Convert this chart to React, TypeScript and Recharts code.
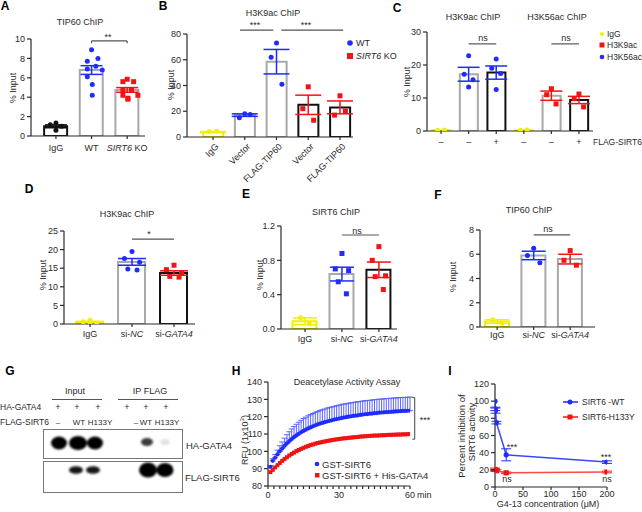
import React from 'react'
import { ComposedChart, Bar, Cell, Scatter, Line, ErrorBar, XAxis, YAxis, ReferenceLine } from 'recharts'

const FONT = '"Liberation Sans", Arial, sans-serif'
const BLUE = '#1f2bff'
const RED = '#f01414'
const YELLOW = '#f0f000'
const GREY = '#a9a9a9'
const BLACK = '#111111'
const INK = '#2a2a2a'

// A: TIP60 ChIP
const aCats = ['IgG', 'WT', '*SIRT6* KO']
const aMean = [1.0, 6.8, 4.75]
const aSem = [0.15, 0.45, 0.24]
const aIgG = [1.35, 1.15, 1.0, 0.6]
const aWT = [8.9, 8.0, 7.7, 7.2, 6.9, 6.8, 6.1, 5.3, 4.2]
const aKO = [5.85, 5.6, 5.6, 4.75, 4.75, 4.2, 4.2, 3.8, 3.9]

// B: H3K9ac ChIP
const bCats = ['IgG', 'Vector', 'FLAG-TIP60', 'Vector', 'FLAG-TIP60']
const bMean = [3.8, 17, 58.5, 25, 23]
const bSem = [0.4, 1, 9.5, 7.5, 5]
const bIgG = [4, 4.5]
const bWtVec = [18, 15, 17.5]
const bWtTip = [73, 62, 41]
const bKoVec = [39, 22, 13]
const bKoTip = [32, 17, 20]

// C: H3K9ac / H3K56ac ChIP
const cCats = ['–', '–', '+', '–', '–', '+']
const cMean = [0.2, 17.2, 17.7, 0.2, 10.7, 9.4]
const cSem = [0, 2.1, 2.0, 0, 1.4, 1.1]
const cIgG1 = [0.2, 0.3]
const cK9Neg = [22.8, 17.2, 15.5, 13.3]
const cK9Pos = [21.8, 19, 17.4, 12.6]
const cIgG2 = [0.2, 0.3]
const cK56Neg = [12.8, 11, 8.2]
const cK56Pos = [11.2, 9.8, 7.3]

// D: H3K9ac ChIP (siRNA)
const dCats = ['IgG', 'si-*NC*', 'si-*GATA4*']
const dMean = [0.5, 16.7, 13.7]
const dSem = [0.2, 0.9, 0.6]
const dIgG = [1.0, 0.6, 0.3, 0.4]
const dNC = [19.5, 17.6, 16.6, 14.8, 14.5]
const dGATA4 = [15.8, 14.6, 13.6, 12.8, 12.6]

// E: SIRT6 ChIP
const eCats = ['IgG', 'si-*NC*', 'si-*GATA4*']
const eMean = [0.09, 0.64, 0.69]
const eSem = [0.04, 0.08, 0.09]
const eIgG = [0.13, 0.06]
const eNC = [0.88, 0.7, 0.68, 0.55, 0.41]
const eGATA4 = [0.96, 0.8, 0.62, 0.61, 0.46]

// F: TIP60 ChIP (siRNA)
const fCats = ['IgG', 'si-*NC*', 'si-*GATA4*']
const fMean = [0.45, 5.9, 5.6]
const fSem = [0.15, 0.35, 0.4]
const fIgG = [0.6, 0.35]
const fNC = [6.5, 5.9, 5.3]
const fGATA4 = [6.3, 5.5, 5.1]

// H: deacetylase activity, minutes
const hMinutes = [
  1, 2, 3, 4, 5, 6, 7, 8, 9, 10, 11, 12, 13, 14, 15, 16, 17, 18, 19, 20,
  21, 22, 23, 24, 25, 26, 27, 28, 29, 30, 31, 32, 33, 34, 35, 36, 37, 38, 39, 40,
  41, 42, 43, 44, 45, 46, 47, 48, 49, 50, 51, 52, 53, 54, 55, 56, 57, 58, 59, 60,
]
const hSirt6 = [
  91, 94.5, 96.3, 98.2, 100, 101.6, 103.2, 104.6, 105.9, 107.1,
  108.2, 109.2, 110.1, 111, 111.8, 112.5, 113.2, 113.8, 114.4, 115,
  115.5, 116, 116.4, 116.8, 117.2, 117.6, 117.9, 118.3, 118.6, 118.9,
  119.2, 119.5, 119.7, 120, 120.2, 120.4, 120.6, 120.8, 121, 121.2,
  121.4, 121.5, 121.7, 121.8, 122, 122.1, 122.3, 122.4, 122.5, 122.6,
  122.7, 122.8, 122.9, 123, 123.1, 123.2, 123.3, 123.3, 123.4, 123.5,
]
const hSirt6Err = [
  0.8, 1.2, 1.8, 2.5, 3.2, 3.8, 4.4, 5.0, 5.4, 5.8,
  6.1, 6.4, 6.7, 6.9, 7.1, 7.2, 7.3, 7.4, 7.4, 7.5,
  7.5, 7.6, 7.6, 7.6, 7.7, 7.7, 7.7, 7.6, 7.7, 7.7,
  7.7, 7.8, 7.7, 7.7, 7.8, 7.7, 7.8, 7.8, 7.7, 7.8,
  7.8, 7.8, 7.7, 7.8, 7.8, 7.8, 7.8, 7.7, 7.8, 7.8,
  7.8, 7.8, 7.8, 7.8, 7.8, 7.8, 7.8, 7.8, 7.8, 7.8,
]
const hGata4 = [
  88, 89.3, 90.7, 92, 93.3, 94.5, 95.6, 96.6, 97.6, 98.5,
  99.3, 100.1, 100.8, 101.4, 102, 102.6, 103.1, 103.6, 104, 104.4,
  104.8, 105.1, 105.4, 105.7, 106, 106.2, 106.5, 106.7, 106.9, 107.1,
  107.3, 107.5, 107.6, 107.8, 107.9, 108.1, 108.2, 108.3, 108.5, 108.6,
  108.7, 108.8, 108.9, 109, 109.1, 109.1, 109.2, 109.3, 109.3, 109.4,
  109.5, 109.5, 109.6, 109.6, 109.7, 109.7, 109.8, 109.8, 109.9, 110,
]
const hTicks = [0, 2.5, 5, 7.5, 10, 12.5, 15, 17.5, 20, 22.5, 25, 27.5, 30, 32.5, 35, 37.5, 40, 42.5, 45, 47.5, 50, 52.5, 55, 57.5, 60]

// I: inhibition by G4-13
const iWtConc = [0, 0.5, 1, 2.5, 20, 200]
const iWtInh = [100, 91, 89, 75, 37.5, 29]
const iWtErr = [0, 2, 3, 1.5, 7, 1.5]
const iMutConc = [0, 0.5, 2.5, 20, 200]
const iMutInh = [20.5, 19.5, 19, 16.5, 17.5]
const iMutErr = [1.5, 1, 1, 1, 1]

// horizontal spread of replicate dots (category units)
const JIT: Record<number, number[]> = {
  2: [-0.12, 0.12],
  3: [0, -0.17, 0.17],
  4: [0, -0.16, 0.16, 0],
  5: [0, -0.18, 0.18, -0.1, 0.12],
  9: [0, 0.18, -0.12, 0.12, -0.12, 0.3, -0.12, 0.02, 0.02],
}

const axisStyle = { stroke: INK, strokeWidth: 1.2 }
const tickStyle = { fontSize: 9, fill: INK, fontFamily: FONT }

const rich = (s: string) =>
  s.split('*').map((part, i) => (
    <tspan key={i} fontStyle={i % 2 ? 'italic' : 'normal'}>{part}</tspan>
  ))

const dot = (color: string, square?: boolean, r = 2.5) => (p: any) =>
  square ? (
    <rect key={p.index} x={p.cx - r} y={p.cy - r} width={2 * r} height={2 * r} fill={color} />
  ) : (
    <circle key={p.index} cx={p.cx} cy={p.cy} r={r} fill={color} />
  )

const empty = () => <g />

interface Group { cat: number; values: number[]; color: string; square?: boolean }
interface Bracket { x1: number; x2: number; y: number; drop?: number }

interface PanelProps {
  left: number; top: number; width: number; height: number
  yWidth: number; mTop: number; mRight: number; xHeight: number
  xDomain: [number, number]; yDomain: [number, number]; yTicks: number[]
  cats: string[]; means: number[]; sems: number[]
  strokes: string[]; errColors: string[]; groups: Group[]
  barSize: number; cap: number; labelGap: number; rotate?: boolean
  brackets: Bracket[]; yFmt?: (v: number) => string
}

function DotBarPanel(p: PanelProps) {
  const bars = p.means.map((m, i) => ({ x: i, mean: m }))
  const catTick = (t: any) => {
    const label = p.cats[t.payload.value] ?? ''
    if (p.rotate) {
      const tx = t.x + 4
      const ty = t.y + 5
      return (
        <text x={tx} y={ty} transform={`rotate(-45 ${tx} ${ty})`} textAnchor="end" dominantBaseline="central" {...tickStyle}>
          {rich(label)}
        </text>
      )
    }
    return (
      <text x={t.x} y={t.y + p.labelGap} textAnchor="middle" dominantBaseline="central" {...tickStyle}>
        {rich(label)}
      </text>
    )
  }
  return (
    <div style={{ position: 'absolute', left: p.left, top: p.top }}>
      <ComposedChart width={p.width} height={p.height} data={bars} margin={{ top: p.mTop, right: p.mRight, bottom: 0, left: 0 }}>
        <XAxis type="number" dataKey="x" domain={p.xDomain} ticks={p.cats.map((_, i) => i)} interval={0} allowDataOverflow
          height={p.xHeight} axisLine={axisStyle} tickLine={axisStyle} tickSize={3} tickMargin={0} tick={catTick} />
        <XAxis xAxisId="pts" type="number" dataKey="x" domain={p.xDomain} allowDataOverflow hide />
        <YAxis type="number" domain={p.yDomain} ticks={p.yTicks} interval={0} allowDataOverflow width={p.yWidth}
          axisLine={axisStyle} tickLine={axisStyle} tickSize={4} tickMargin={2} tick={tickStyle} tickFormatter={p.yFmt} />
        <Bar dataKey="mean" barSize={p.barSize} fill="#ffffff" strokeWidth={2} isAnimationActive={false}>
          {p.means.map((_, i) => <Cell key={i} stroke={p.strokes[i]} />)}
        </Bar>
        {p.means.map((m, i) => (
          <Scatter key={'e' + i} xAxisId="pts" data={[{ x: i, y: m, err: p.sems[i] }]} dataKey="y" shape={empty} isAnimationActive={false}>
            <ErrorBar dataKey="err" direction="y" width={p.cap} stroke={p.errColors[i]} strokeWidth={1.5} />
          </Scatter>
        ))}
        {p.groups.map((g, k) => {
          const jit = JIT[g.values.length] ?? []
          const pts = g.values.map((v, j) => ({ x: g.cat + (jit[j] ?? 0), y: v }))
          return <Scatter key={'g' + k} xAxisId="pts" data={pts} dataKey="y" shape={dot(g.color, g.square)} isAnimationActive={false} />
        })}
        {p.brackets.map((b, k) => (
          <ReferenceLine key={'b' + k} segment={[{ x: b.x1, y: b.y }, { x: b.x2, y: b.y }]} stroke="#555" strokeWidth={1.2} ifOverflow="visible" />
        ))}
        {p.brackets.filter(b => b.drop).map((b, k) => (
          <ReferenceLine key={'l' + k} segment={[{ x: b.x1, y: b.y }, { x: b.x1, y: b.y - (b.drop ?? 0) }]} stroke="#555" strokeWidth={1.2} ifOverflow="visible" />
        ))}
        {p.brackets.filter(b => b.drop).map((b, k) => (
          <ReferenceLine key={'r' + k} segment={[{ x: b.x2, y: b.y }, { x: b.x2, y: b.y - (b.drop ?? 0) }]} stroke="#555" strokeWidth={1.2} ifOverflow="visible" />
        ))}
      </ComposedChart>
    </div>
  )
}

function ActivityPanel() {
  const rows = hMinutes.map((t, i) => ({ t, wt: hSirt6[i], wtErr: [0, hSirt6Err[i]], gata: hGata4[i] }))
  return (
    <div style={{ position: 'absolute', left: 230, top: 372 }}>
      <ComposedChart width={192} height={134} data={rows} margin={{ top: 10, right: 12, bottom: 0, left: 0 }}>
        <XAxis type="number" dataKey="t" domain={[0, 60]} ticks={hTicks} interval={0} allowDataOverflow height={20}
          axisLine={axisStyle} tickLine={axisStyle} tickSize={3} tickMargin={3} tick={tickStyle}
          tickFormatter={(v: number) => (v % 30 === 0 ? String(v) : '')} />
        <YAxis type="number" domain={[80, 140]} ticks={[80, 90, 100, 110, 120, 130, 140]} interval={0} allowDataOverflow width={38}
          axisLine={axisStyle} tickLine={axisStyle} tickSize={4} tickMargin={2} tick={tickStyle} />
        <Scatter dataKey="wt" shape={dot(BLUE, false, 2.1)} isAnimationActive={false}>
          <ErrorBar dataKey="wtErr" direction="y" width={3} stroke="#5b66ff" strokeWidth={1} />
        </Scatter>
        <Scatter dataKey="gata" shape={dot(RED, true, 2)} isAnimationActive={false} />
        <ReferenceLine segment={[{ x: 62, y: 131 }, { x: 62, y: 107 }]} stroke="#444" strokeWidth={1} ifOverflow="visible" />
        <ReferenceLine segment={[{ x: 61, y: 131 }, { x: 62, y: 131 }]} stroke="#444" strokeWidth={1} ifOverflow="visible" />
        <ReferenceLine segment={[{ x: 61, y: 107 }, { x: 62, y: 107 }]} stroke="#444" strokeWidth={1} ifOverflow="visible" />
      </ComposedChart>
    </div>
  )
}

function InhibitionPanel() {
  const wt = iWtConc.map((x, i) => ({ x, y: iWtInh[i], e: iWtErr[i] }))
  const mut = iMutConc.map((x, i) => ({ x, y: iMutInh[i], e: iMutErr[i] }))
  return (
    <div style={{ position: 'absolute', left: 460, top: 374 }}>
      <ComposedChart width={162} height={127} margin={{ top: 10, right: 15, bottom: 0, left: 0 }}>
        <XAxis type="number" dataKey="x" domain={[0, 200]} ticks={[0, 50, 100, 150, 200]} interval={0} allowDataOverflow height={14}
          axisLine={axisStyle} tickLine={axisStyle} tickSize={3} tickMargin={1} tick={tickStyle} />
        <YAxis type="number" domain={[0, 120]} ticks={[0, 20, 40, 60, 80, 100, 120]} interval={0} allowDataOverflow width={35}
          axisLine={axisStyle} tickLine={axisStyle} tickSize={4} tickMargin={2} tick={tickStyle} />
        <Line data={mut} dataKey="y" stroke="#ff4a4a" strokeWidth={1.5} dot={dot(RED, true, 2.6)} isAnimationActive={false}>
          <ErrorBar dataKey="e" direction="y" width={5} stroke={RED} strokeWidth={1} />
        </Line>
        <Line data={wt} dataKey="y" stroke="#3a46ff" strokeWidth={1.5} dot={dot(BLUE, false, 2.6)} isAnimationActive={false}>
          <ErrorBar dataKey="e" direction="y" width={5} stroke={BLUE} strokeWidth={1} />
        </Line>
      </ComposedChart>
    </div>
  )
}

const T = ({ x, y, children, size = 9, anchor = 'start', bold, rotate, fill = INK }: any) => (
  <text x={x} y={y} fontSize={size} textAnchor={anchor} dominantBaseline="central" fontWeight={bold ? 'bold' : 'normal'}
    fill={fill} fontFamily={FONT} transform={rotate ? `rotate(${rotate} ${x} ${y})` : undefined}>
    {children}
  </text>
)

const lanes = [58, 77, 98, 127, 146, 166]

function Overlay() {
  return (
    <svg width={642} height={512} style={{ position: 'absolute', left: 0, top: 0, pointerEvents: 'none' }}>
      <defs>
        <filter id="blur" x="-50%" y="-50%" width="200%" height="200%">
          <feGaussianBlur stdDeviation="1.3" />
        </filter>
      </defs>
      {/* panel letters */}
      <T x={5} y={6} size={12} bold anchor="middle" fill="#000">A</T>
      <T x={163} y={6} size={12} bold anchor="middle" fill="#000">B</T>
      <T x={397} y={8} size={12} bold anchor="middle" fill="#000">C</T>
      <T x={29} y={189} size={12} bold anchor="middle" fill="#000">D</T>
      <T x={246} y={194} size={12} bold anchor="middle" fill="#000">E</T>
      <T x={438} y={195} size={12} bold anchor="middle" fill="#000">F</T>
      <T x={10} y={371} size={12} bold anchor="middle" fill="#000">G</T>
      <T x={236} y={371} size={12} bold anchor="middle" fill="#000">H</T>
      <T x={450} y={371} size={12} bold anchor="middle" fill="#000">I</T>

      {/* titles */}
      <T x={80} y={22} anchor="middle">TIP60  ChIP</T>
      <T x={273} y={13} anchor="middle">H3K9ac ChIP</T>
      <T x={473} y={17} anchor="middle">H3K9ac  ChIP</T>
      <T x={557} y={17} anchor="middle">H3K56ac ChIP</T>
      <T x={127} y={214} anchor="middle">H3K9ac  ChIP</T>
      <T x={336} y={212} anchor="middle">SIRT6   ChIP</T>
      <T x={529} y={210} anchor="middle">TIP60  ChIP</T>
      <T x={347} y={382} anchor="middle">Deacetylase Activity Assay</T>

      {/* y labels */}
      <T x={13} y={88} anchor="middle" rotate={-90}>% Input</T>
      <T x={171} y={85} anchor="middle" rotate={-90}>% Input</T>
      <T x={407} y={82} anchor="middle" rotate={-90}>% Input</T>
      <T x={43} y={275} anchor="middle" rotate={-90}>% Input</T>
      <T x={260} y={275} anchor="middle" rotate={-90}>% Input</T>
      <T x={453} y={277} anchor="middle" rotate={-90}>% Input</T>
      <text x={245} y={440} fontSize={9} textAnchor="middle" dominantBaseline="central" fill={INK} fontFamily={FONT} transform="rotate(-90 245 440)">
        RFU (1x10<tspan fontSize={6} dy={-3}>3</tspan><tspan dy={3}>)</tspan>
      </text>
      <T x={461} y={436} size={9.5} anchor="middle" rotate={-90}>Percent inhibition of</T>
      <T x={471.5} y={432} size={9.5} anchor="middle" rotate={-90}>SIRT6 activity</T>

      {/* significance marks */}
      <T x={108} y={37} anchor="middle">**</T>
      <T x={255} y={25} anchor="middle">***</T>
      <T x={306} y={25} anchor="middle">***</T>
      <T x={483} y={38} anchor="middle">ns</T>
      <T x={566} y={38} anchor="middle">ns</T>
      <T x={149} y={234} anchor="middle">*</T>
      <T x={357} y={231} anchor="middle">ns</T>
      <T x={548} y={229} anchor="middle">ns</T>
      <T x={425} y={420} anchor="middle">***</T>
      <T x={512} y={447} anchor="middle">***</T>
      <T x={606} y={457} anchor="middle">***</T>
      <T x={507} y={479} anchor="middle">ns</T>
      <T x={607} y={479} anchor="middle">ns</T>

      {/* legend B */}
      <circle cx={350} cy={43} r={2.8} fill={BLUE} />
      <T x={356} y={43}>WT</T>
      <rect x={347} y={53} width={6} height={6} fill={RED} />
      <text x={356} y={56} fontSize={9} dominantBaseline="central" fill={INK} fontFamily={FONT}>
        <tspan fontStyle="italic">SIRT6</tspan> KO
      </text>

      {/* legend C */}
      <circle cx={602} cy={34} r={2} fill={YELLOW} />
      <T x={607} y={34} size={8.5}>IgG</T>
      <rect x={599.5} y={42.5} width={5} height={5} fill={RED} />
      <T x={607} y={45} size={8.5}>H3K9ac</T>
      <circle cx={602} cy={57} r={2.3} fill={BLUE} />
      <T x={607} y={57} size={8.5}>H3K56ac</T>
      <T x={593} y={142} size={8.5}>FLAG-SIRT6</T>

      {/* legend H */}
      <circle cx={317} cy={464} r={2.3} fill={BLUE} />
      <T x={322} y={464} size={9.5}>GST-SIRT6</T>
      <rect x={315} y={473} width={4.5} height={4.5} fill={RED} />
      <T x={322} y={475.5} size={9.5}>GST-SIRT6 + His-GATA4</T>
      <T x={417} y={495}>min</T>

      {/* legend I */}
      <line x1={563} x2={578} y1={402} y2={402} stroke={BLUE} strokeWidth={1.5} />
      <circle cx={570} cy={402} r={2.5} fill={BLUE} />
      <T x={582} y={402} size={8.5}>SIRT6 -WT</T>
      <line x1={563} x2={578} y1={417} y2={417} stroke={RED} strokeWidth={1.5} />
      <rect x={567.5} y={414.5} width={5} height={5} fill={RED} />
      <T x={582} y={417} size={8.5}>SIRT6-H133Y</T>
      <T x={548} y={504} anchor="middle">G4-13 concentration (μM)</T>

      {/* G: co-IP blot */}
      <T x={75} y={391} anchor="middle">Input</T>
      <line x1={52} x2={102} y1={399.5} y2={399.5} stroke="#555" strokeWidth={1} />
      <T x={150} y={391} anchor="middle">IP  FLAG</T>
      <line x1={118} x2={178} y1={399.5} y2={399.5} stroke="#555" strokeWidth={1} />
      <T x={0} y={407} size={8.5}>HA-GATA4</T>
      <T x={0} y={422} size={8.5}>FLAG-SIRT6</T>
      {lanes.map(x => <T key={x} x={x} y={407} anchor="middle">+</T>)}
      <T x={58} y={422} anchor="middle" size={8}>–</T>
      <T x={79} y={422} anchor="middle" size={8}>WT</T>
      <T x={100} y={422} anchor="middle" size={8}>H133Y</T>
      <T x={136} y={422} anchor="middle" size={8}>–</T>
      <T x={146} y={422} anchor="middle" size={8}>WT</T>
      <T x={167} y={422} anchor="middle" size={8}>H133Y</T>
      <rect x={43.5} y={429.5} width={139} height={29} fill="#fff" stroke="#777" />
      <rect x={43.5} y={461.5} width={139} height={31} fill="#fff" stroke="#777" />
      <g filter="url(#blur)">
        <ellipse cx={59} cy={443} rx={8} ry={6.5} fill="#050505" />
        <ellipse cx={78} cy={443} rx={9} ry={7} fill="#050505" />
        <ellipse cx={95} cy={443} rx={8} ry={6.5} fill="#050505" />
        <ellipse cx={147} cy={442} rx={6} ry={4} fill="#3a3a3a" />
        <ellipse cx={165} cy={442} rx={5} ry={3} fill="#e2e2e2" />
        <ellipse cx={76} cy={470} rx={7} ry={3.8} fill="#151515" />
        <ellipse cx={93} cy={470} rx={7} ry={3.8} fill="#151515" />
        <ellipse cx={148} cy={470} rx={9} ry={7.5} fill="#050505" />
        <ellipse cx={165} cy={470} rx={8.5} ry={7} fill="#050505" />
      </g>
      <T x={186} y={445} size={9.5}>HA-GATA4</T>
      <T x={185} y={477} size={9.5}>FLAG-SIRT6</T>
    </svg>
  )
}

export default function App() {
  return (
    <div style={{ position: 'absolute', left: 0, top: 0, width: 642, height: 512, background: '#fff', fontFamily: FONT, overflow: 'hidden' }}>
      <DotBarPanel left={0} top={28} width={150} height={140} yWidth={31} mTop={11} mRight={5} xHeight={32}
        xDomain={[-0.7, 2.5]} yDomain={[0, 10]} yTicks={[0, 2, 4, 6, 8, 10]}
        cats={aCats} means={aMean} sems={aSem}
        strokes={[BLACK, GREY, GREY]} errColors={[BLACK, BLUE, RED]}
        groups={[{ cat: 0, values: aIgG, color: BLACK }, { cat: 1, values: aWT, color: BLUE }, { cat: 2, values: aKO, color: RED, square: true }]}
        barSize={23} cap={11} labelGap={9}
        brackets={[{ x1: 1, x2: 2, y: 9.8, drop: 0.25 }]} />
      <DotBarPanel left={150} top={20} width={208} height={172} yWidth={37} mTop={14} mRight={5} xHeight={55}
        xDomain={[-0.82, 4.41]} yDomain={[0, 80]} yTicks={[0, 20, 40, 60, 80]}
        cats={bCats} means={bMean} sems={bSem}
        strokes={[YELLOW, GREY, GREY, BLACK, BLACK]} errColors={[YELLOW, BLUE, BLUE, RED, RED]}
        groups={[{ cat: 0, values: bIgG, color: YELLOW }, { cat: 1, values: bWtVec, color: BLUE }, { cat: 2, values: bWtTip, color: BLUE },
          { cat: 3, values: bKoVec, color: RED, square: true }, { cat: 4, values: bKoTip, color: RED, square: true }]}
        barSize={20} cap={13} labelGap={8} rotate
        brackets={[{ x1: 0.85, x2: 1.9, y: 83 }, { x1: 2.15, x2: 4.1, y: 83 }]} />
      <DotBarPanel left={395} top={20} width={202} height={131} yWidth={32} mTop={12} mRight={4} xHeight={20}
        xDomain={[-0.51, 5.51]} yDomain={[0, 30]} yTicks={[0, 10, 20, 30]}
        cats={cCats} means={cMean} sems={cSem}
        strokes={[YELLOW, GREY, BLACK, YELLOW, GREY, BLACK]} errColors={[YELLOW, BLUE, BLUE, YELLOW, RED, RED]}
        groups={[{ cat: 0, values: cIgG1, color: YELLOW }, { cat: 1, values: cK9Neg, color: BLUE }, { cat: 2, values: cK9Pos, color: BLUE },
          { cat: 3, values: cIgG2, color: YELLOW }, { cat: 4, values: cK56Neg, color: RED, square: true }, { cat: 5, values: cK56Pos, color: RED, square: true }]}
        barSize={18} cap={11} labelGap={8}
        brackets={[{ x1: 1, x2: 2, y: 26.4 }, { x1: 4, x2: 5, y: 26.4 }]} />
      <DotBarPanel left={30} top={215} width={170} height={129} yWidth={34} mTop={16} mRight={5} xHeight={20}
        xDomain={[-0.62, 2.5]} yDomain={[0, 25]} yTicks={[0, 5, 10, 15, 20, 25]}
        cats={dCats} means={dMean} sems={dSem}
        strokes={[YELLOW, GREY, BLACK]} errColors={[YELLOW, BLUE, RED]}
        groups={[{ cat: 0, values: dIgG, color: YELLOW }, { cat: 1, values: dNC, color: BLUE }, { cat: 2, values: dGATA4, color: RED, square: true }]}
        barSize={27} cap={14} labelGap={7}
        brackets={[{ x1: 1, x2: 2, y: 22.8 }]} />
      <DotBarPanel left={245} top={212} width={157} height={137} yWidth={36} mTop={14} mRight={5} xHeight={20}
        xDomain={[-0.65, 2.49]} yDomain={[0, 1.2]} yTicks={[0, 0.4, 0.8, 1.2]} yFmt={(v: number) => v.toFixed(1)}
        cats={eCats} means={eMean} sems={eSem}
        strokes={[YELLOW, GREY, BLACK]} errColors={[YELLOW, BLUE, RED]}
        groups={[{ cat: 0, values: eIgG, color: YELLOW }, { cat: 1, values: eNC, color: BLUE, square: true }, { cat: 2, values: eGATA4, color: RED, square: true }]}
        barSize={24} cap={12} labelGap={7}
        brackets={[{ x1: 1, x2: 2, y: 1.095 }]} />
      <DotBarPanel left={450} top={215} width={150} height={132} yWidth={30} mTop={15} mRight={5} xHeight={20}
        xDomain={[-0.47, 2.68]} yDomain={[0, 8]} yTicks={[0, 2, 4, 6, 8]}
        cats={fCats} means={fMean} sems={fSem}
        strokes={[YELLOW, GREY, GREY]} errColors={[YELLOW, BLUE, RED]}
        groups={[{ cat: 0, values: fIgG, color: YELLOW }, { cat: 1, values: fNC, color: BLUE }, { cat: 2, values: fGATA4, color: RED, square: true }]}
        barSize={24} cap={12} labelGap={5}
        brackets={[{ x1: 1, x2: 2, y: 7.6 }]} />
      <ActivityPanel />
      <InhibitionPanel />
      <Overlay />
    </div>
  )
}
